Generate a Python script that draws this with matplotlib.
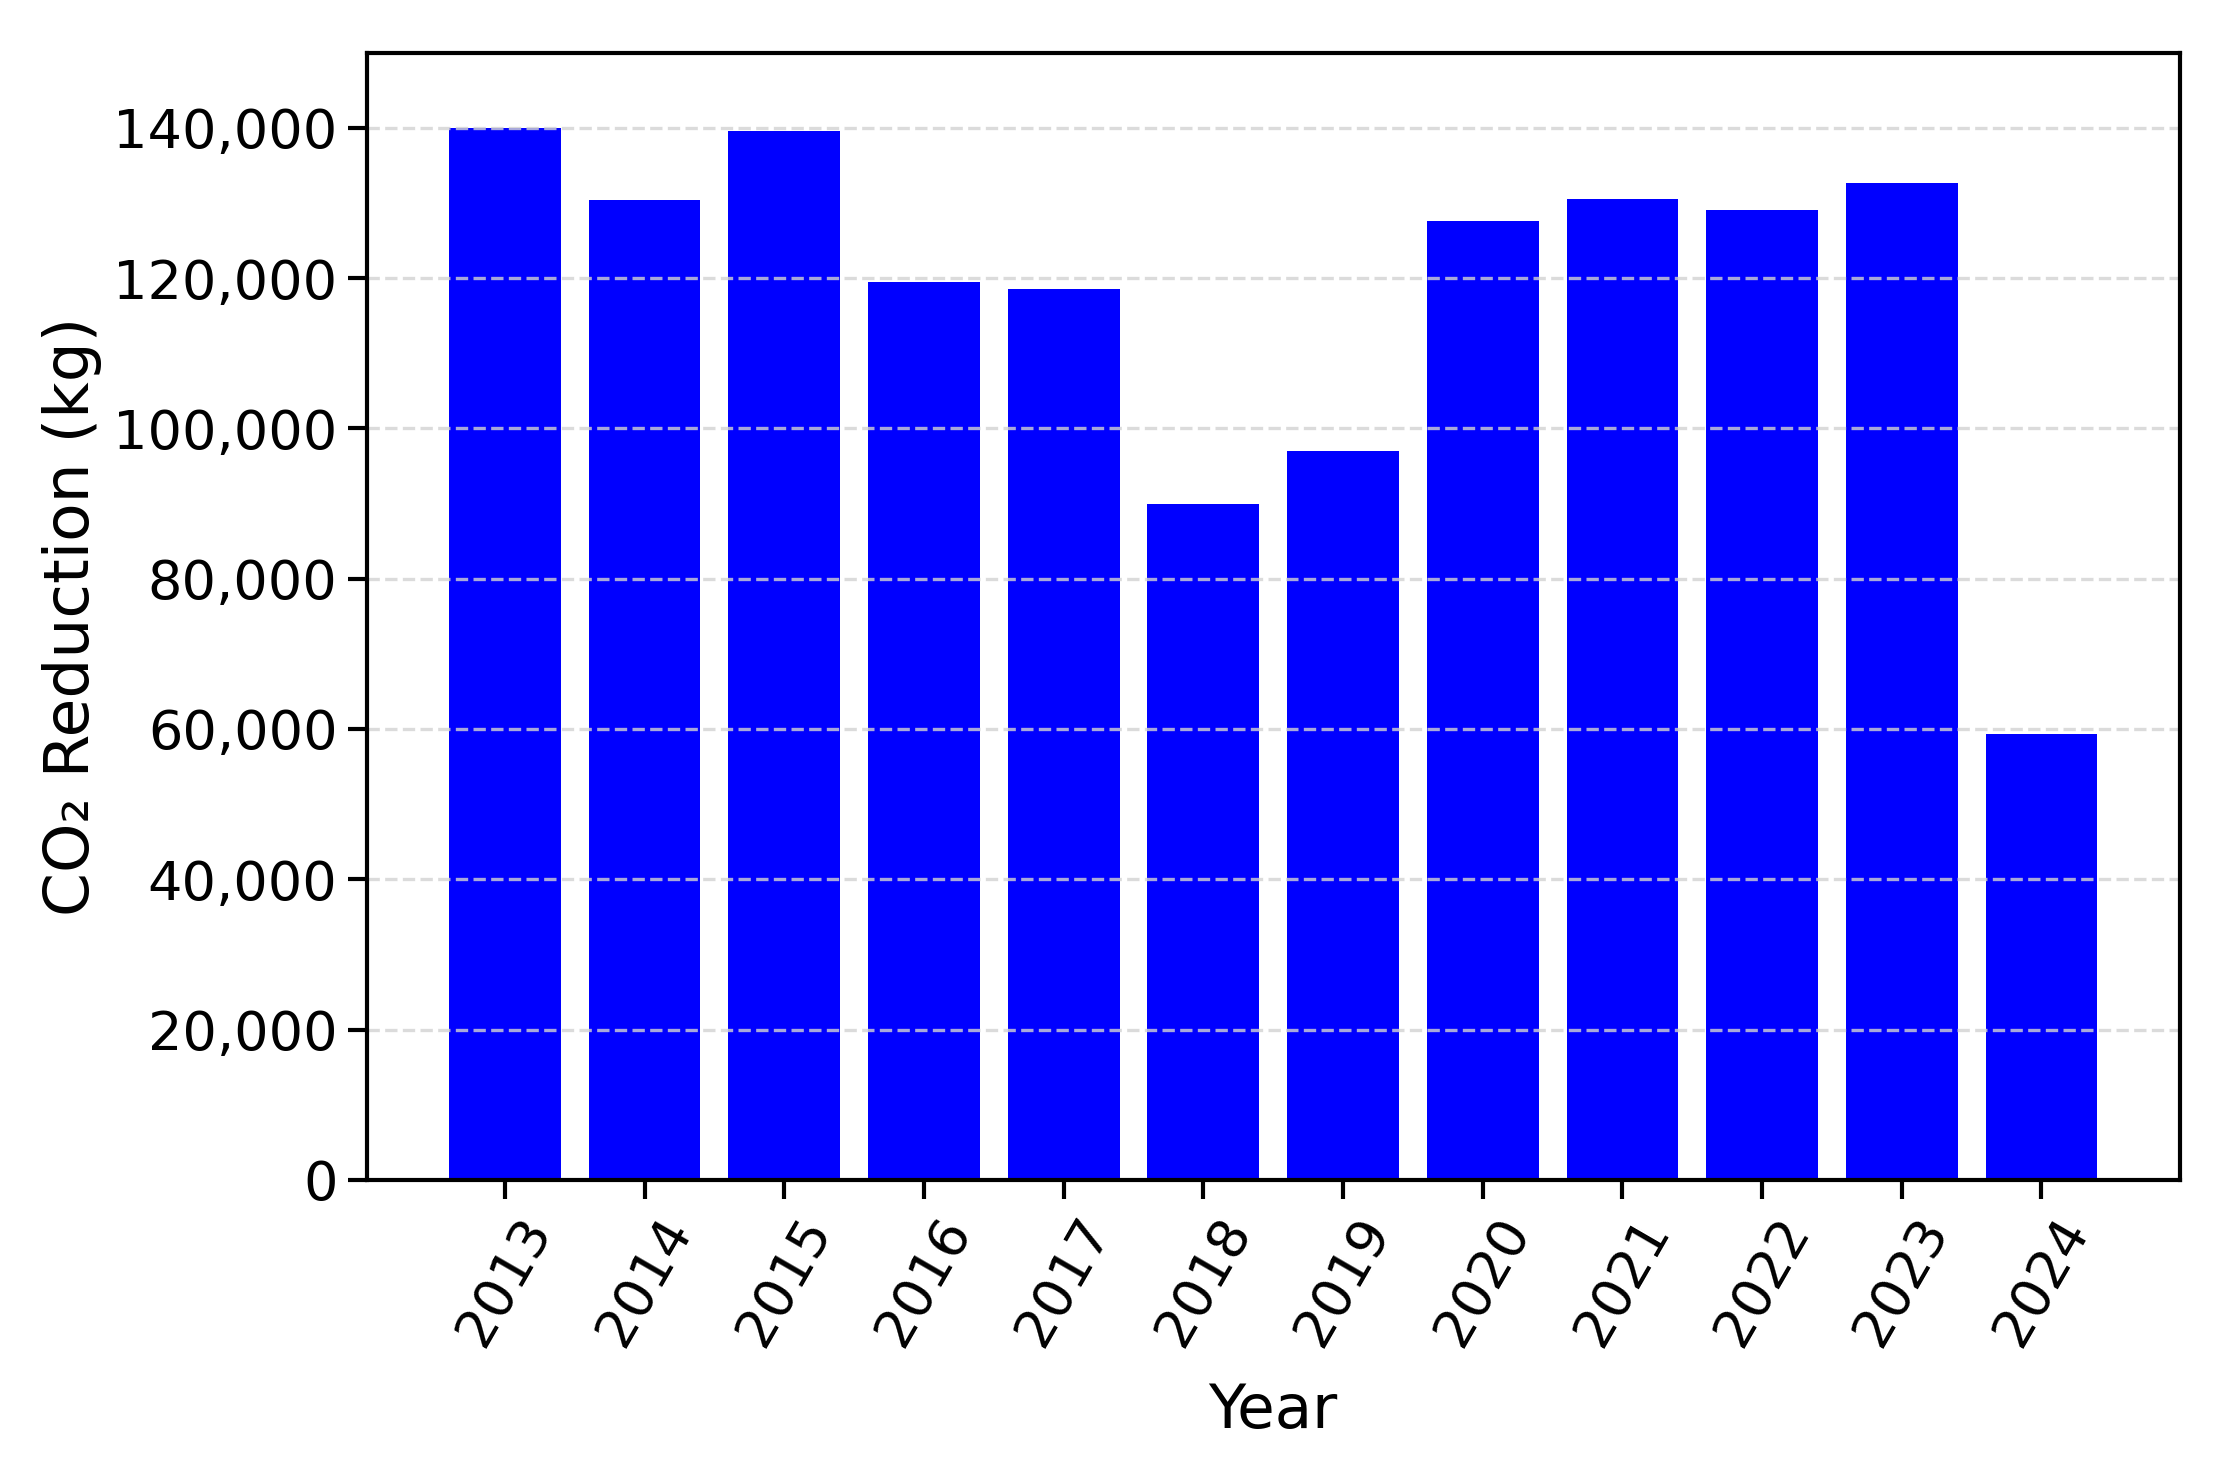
import matplotlib
matplotlib.use('Agg')
import matplotlib.pyplot as plt
from matplotlib.ticker import FuncFormatter

# values
years = ['2013', '2014', '2015', '2016', '2017', '2018',
         '2019', '2020', '2021', '2022', '2023', '2024']
co2_reduction = [140000, 130400, 139600, 119500, 118600, 90000,
                 97000, 127600, 130500, 129100, 132700, 59300]

fig, ax = plt.subplots(figsize=(11.11, 7.31), dpi=200)
fig.subplots_adjust(left=0.165, right=0.981, top=0.964, bottom=0.193)

ax.bar(years, co2_reduction, color='blue', width=0.8)
ax.grid(axis='y', linestyle='--', color='lightgray', alpha=0.8, linewidth=1.2)

ax.set_ylim(0, 150000)
ax.yaxis.set_major_formatter(FuncFormatter(lambda v, p: f'{int(v):,}'))

ax.tick_params(axis='both', labelsize=19.5, width=1.5, length=7)
plt.setp(ax.get_xticklabels(), rotation=60)
for s in ax.spines.values():
    s.set_linewidth(1.5)

ax.set_xlabel('Year', fontsize=22, labelpad=10)
ax.set_ylabel('CO\u2082 Reduction (kg)', fontsize=22.7)

fig.savefig('out.png', dpi=200)
